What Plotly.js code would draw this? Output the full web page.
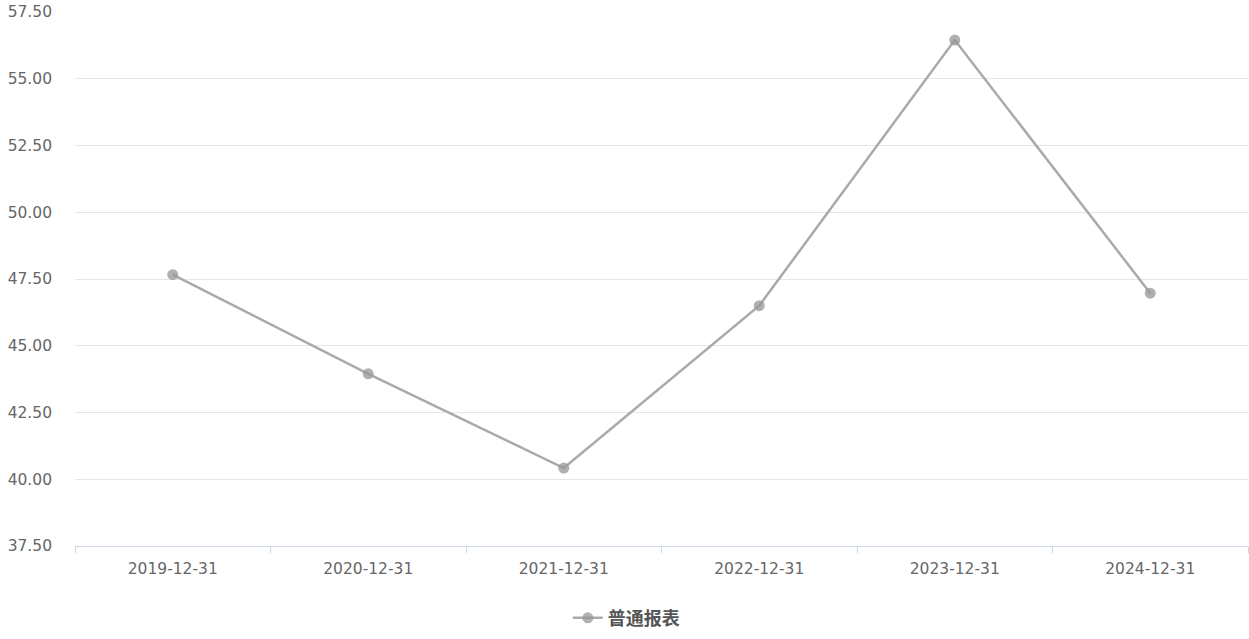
<!DOCTYPE html>
<html>
<head>
<meta charset="utf-8">
<script src="https://cdn.plot.ly/plotly-3.0.1.min.js"></script>
<style>html,body{margin:0;padding:0;background:#fff;}#chart{width:1249px;height:639px;}</style>
</head>
<body>
<div id="chart"></div>
<script>
const categories = ["2019-12-31","2020-12-31","2021-12-31","2022-12-31","2023-12-31","2024-12-31"];
const seriesName = "普通报表";
const values = [47.66, 43.95, 40.42, 46.50, 56.45, 46.97];
const yTicks = [37.5, 40, 42.5, 45, 47.5, 50, 52.5, 55, 57.5];
const yTickLabels = ["37.50","40.00","42.50","45.00","47.50","50.00","52.50","55.00","57.50"];

const tickFont = "DejaVu Sans, Noto Sans CJK SC, sans-serif";
const cjkFont = "Noto Sans CJK SC, sans-serif";
Plotly.newPlot("chart", [{
  type: "scatter",
  mode: "lines+markers",
  name: seriesName,
  x: categories,
  y: values,
  line: {color: "#aaaaaa", width: 2.5},
  marker: {color: "rgba(150,150,150,0.75)", size: 11}
}], {
  width: 1249, height: 639,
  margin: {l: 75, r: 1, t: 12, b: 93},
  paper_bgcolor: "#fff", plot_bgcolor: "#fff",
  font: {family: tickFont, color: "#666", size: 15},
  showlegend: true,
  legend: {orientation: "h", x: 0.47, xanchor: "center", xref: "paper", y: -0.135, yanchor: "middle",
           font: {family: cjkFont, size: 18, color: "#555", weight: "bold"}},
  xaxis: {
    type: "category", range: [-0.5, 5.5],
    showline: true, linecolor: "#ccd6eb", linewidth: 1,
    ticks: "outside", tickson: "boundaries", ticklen: 6, tickcolor: "#ccd6eb",
    showgrid: false, zeroline: false,
    ticklabelstandoff: 8,
    tickfont: {family: tickFont, size: 15.5, color: "#666"}
  },
  yaxis: {
    range: [37.5, 57.5],
    tickvals: yTicks, ticktext: yTickLabels,
    showline: false, zeroline: false,
    gridcolor: "#e6e6e6", gridwidth: 1,
    ticklabelstandoff: 22,
    tickfont: {family: tickFont, size: 15.5, color: "#666"}
  }
}, {displayModeBar: false});
</script>
</body>
</html>
